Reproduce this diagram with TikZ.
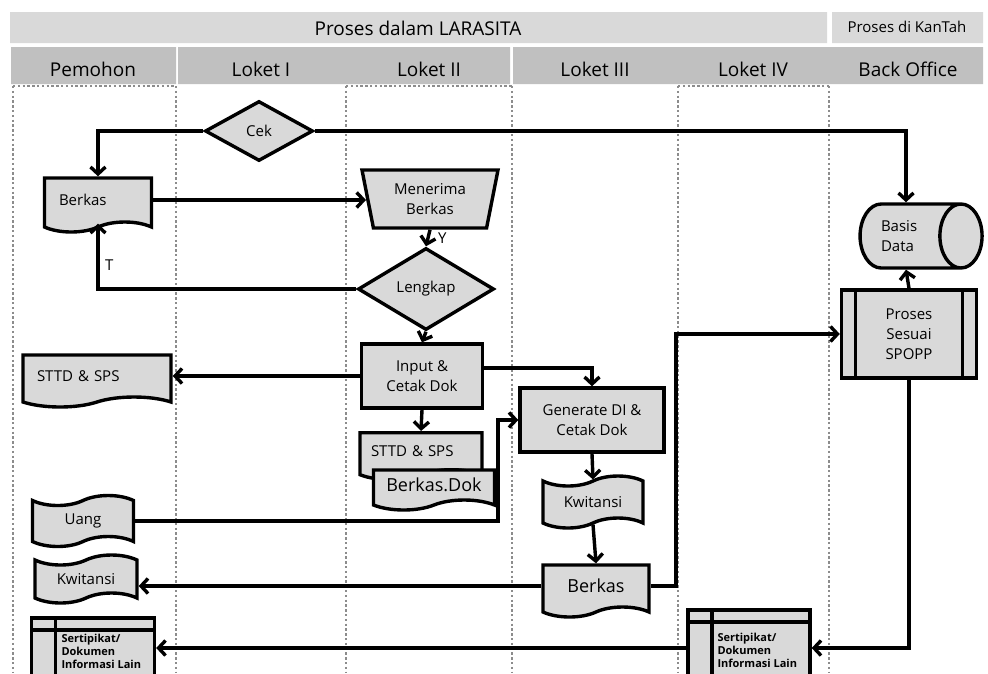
\documentclass[tikz,border=0pt]{standalone}
\usepackage{fontspec}
\setmainfont{Open Sans}
\usetikzlibrary{shapes.geometric,shapes.symbols,arrows.meta}
\definecolor{boxgray}{HTML}{D9D9D9}
\definecolor{bandgray}{HTML}{C0C0C0}
\definecolor{lanegray}{HTML}{8C8C8C}

\begin{document}
\begin{tikzpicture}[x=1pt,y=-1pt,
  box/.style={draw,fill=boxgray,line width=3.4pt,inner sep=2pt,
    font=\fontsize{15}{20}\selectfont,align=center},
  rect/.style={box,rectangle},
  doc/.style={box,tape,tape bend top=none,tape bend height=10pt},
  flag/.style={box,tape,tape bend height=10pt},
  dec/.style={box,diamond},
  proc/.style={rect,path picture={\draw[line width=3.4pt]
    ([xshift=14pt]path picture bounding box.north west) -- ([xshift=14pt]path picture bounding box.south west)
    ([xshift=-14pt]path picture bounding box.north east) -- ([xshift=-14pt]path picture bounding box.south east);}},
  store/.style={rect,path picture={\draw[line width=3.4pt]
    ([yshift=-12pt]path picture bounding box.north west) -- ([yshift=-12pt]path picture bounding box.north east)
    ([xshift=24pt]path picture bounding box.north west) -- ([xshift=24pt]path picture bounding box.south west);}},
  arr/.style={line width=3.4pt,-{Straight Barb[length=7pt,width=15pt]}},
  lane/.style={lanegray,line width=2.6pt,dash pattern=on 2.4pt off 2.4pt},
  hd/.style={font=\fontsize{19}{22}\selectfont},
  small/.style={font=\fontsize{11}{13}\selectfont\bfseries,align=left}]
\useasboundingbox (0,0) rectangle (988,673);
\clip (0,0) rectangle (988,673);
\fill[boxgray] (10,12) rectangle (827,43) (832,12) rectangle (983,43);
\fill[bandgray] (11,47) rectangle (176,84) (178,47) rectangle (510,84) (513,47) rectangle (983,84);
\node[hd] (hlarasita) at (418,28) {Proses dalam LARASITA};
\begin{scope}
  \clip (832,12) rectangle (983,43);
  \node[font=\fontsize{15}{18}\selectfont,anchor=west] (hkantah) at (844,27) {Proses di KanTah};
\end{scope}
\foreach \x/\t/\n in {93/Pemohon/hpemohon,261/Loket I/hloketa,429/Loket II/hloketb,
  595/Loket III/hloketc,753/Loket IV/hloketd,908/Back Office/hback}
  \node[hd] (\n) at (\x,69) {\t};
\foreach \x in {13,176,346,512,678,829}
  \draw[lane] (\x,86) -- (\x,673);
\foreach \a/\b in {13/176,346/512,678/829}
  \draw[lane] (\a,86) -- (\b,86);

\node[dec,minimum width=108pt,minimum height=60pt] (cek) at (259,131) {Cek};
\node[doc,minimum width=107pt,minimum height=54pt,text width=78pt,align=left] (berkasa) at (98,200) {Berkas};
\node[box,trapezium,shape border rotate=180,trapezium left angle=72,trapezium right angle=72,
  trapezium stretches body,minimum width=136pt,minimum height=58pt] (terima) at (430,199) {Menerima\\Berkas};
\node[dec,minimum width=136pt,minimum height=58pt] (lengkap) at (426,289) {Lengkap};
\node[rect,minimum width=121pt,minimum height=64pt] (input) at (422,376) {Input \&\\Cetak Dok};
\node[doc,minimum width=148pt,minimum height=52pt,text width=120pt,align=left] (sttda) at (97,376) {STTD \& SPS};
\node[doc,minimum width=122pt,minimum height=47pt,text width=100pt,align=left,anchor=north] (sttdb) at (421,431) {STTD \& SPS\\[12pt]};
\node[doc,minimum width=121pt,minimum height=40pt,font=\fontsize{18}{20}\selectfont] (berkasdok) at (434,485) {Berkas.Dok};
\node[rect,minimum width=144pt,minimum height=64pt] (generate) at (592,420) {Generate DI \&\\Cetak Dok};
\node[flag,minimum width=101pt,minimum height=51pt] (uang) at (83,521) {Uang};
\node[flag,minimum width=100pt,minimum height=52pt] (kwitb) at (593,502) {Kwitansi};
\node[doc,minimum width=106pt,minimum height=52pt,font=\fontsize{18}{20}\selectfont] (berkasb) at (596,586) {Berkas};
\node[flag,minimum width=102pt,minimum height=48pt] (kwita) at (86,579) {Kwitansi};
\node[box,cylinder,shape border rotate=0,aspect=1.2,minimum width=64pt,minimum height=122pt,
  text width=50pt,align=left] (basis) at (906,236) {Basis\\Data};
\node[proc,minimum width=135pt,minimum height=88pt] (proses) at (909,334) {Proses\\Sesuai\\SPOPP};
\node[store,minimum width=122pt,minimum height=76pt] (sertb) at (749,648) {};
\node[small,anchor=west] (sertbtxt) at (714,650) {Sertipikat/\\Dokumen\\Informasi Lain};
\node[store,minimum width=123pt,minimum height=60pt] (serta) at (93,648) {};
\node[small,anchor=west] (sertatxt) at (58,651) {Sertipikat/\\Dokumen\\Informasi Lain};
\coordinate (uangup) at (498,0);
\coordinate (keback) at (676,0);

\draw[arr] (cek.west) -| (berkasa.north);
\draw[arr] (cek.east) -| (basis.north);
\draw[arr] (berkasa.east) -- (berkasa.east -| terima.west);
\draw[arr] (terima.south) -- node[right=5pt,font=\fontsize{15}{18}\selectfont] {Y} (lengkap.north);
\draw[arr] (lengkap.west) -| node[pos=0.68,right=2pt,font=\fontsize{15}{18}\selectfont] {T} (berkasa.south);
\draw[arr] (lengkap.south) -- (input.north);
\draw[arr] (input.west) -- (input.west -| sttda.east);
\draw[arr] (input.south) -- (sttdb.north);
\draw[arr] ([yshift=8pt]input.east) -| (generate.north);
\draw[arr] (uang.east) -| (uangup |- generate.west) -- (generate.west);
\draw[arr] (generate.south) -- (kwitb.north);
\draw[arr] (kwitb.south) -- (berkasb.north);
\draw[arr] (berkasb.west) -- (berkasb.west -| kwita.east);
\draw[arr] (berkasb.east) -- (berkasb.east -| keback) |- (proses.west);
\draw[arr] (proses.north) -- (basis.south);
\draw[arr] (proses.south) |- (sertb.east);
\draw[arr] (sertb.west) -- (serta.east);
\end{tikzpicture}
\end{document}
